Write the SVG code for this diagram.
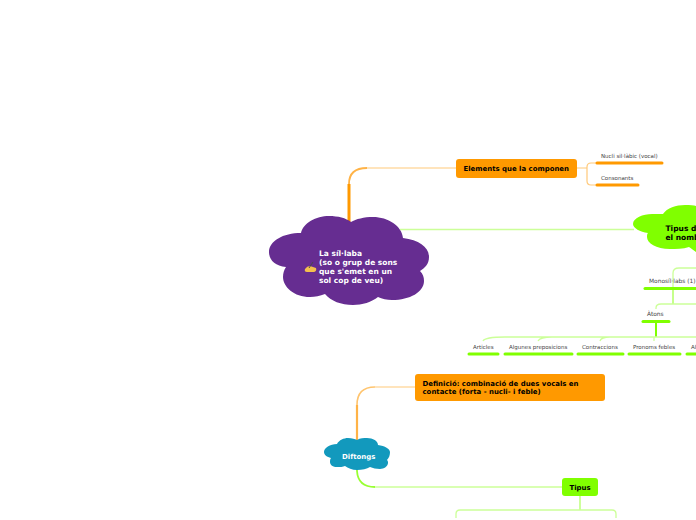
<svg xmlns="http://www.w3.org/2000/svg" width="696" height="520" viewBox="0 0 696 520">
<style>
text{font-family:"DejaVu Sans",Verdana,sans-serif}
.b{font-weight:bold;font-size:6.95px;fill:#000}
.w{font-weight:bold;font-size:7.5px;fill:#fff}
.s{font-size:5.5px;fill:#444}
.m{font-size:5.9px;fill:#444}
.lo{fill:none;stroke:#ffc97a;stroke-width:1.2}
.lg{fill:none;stroke:#ccff99;stroke-width:1.3}
.uo{stroke:#ff9900;stroke-width:3;stroke-linecap:round}
.ug{stroke:#80ff00;stroke-width:3;stroke-linecap:round}
</style>
<rect width="696" height="520" fill="#fff"/>
<g id="connectors">
<path class="lo" d="M367 168H456"/>
<path fill="none" stroke="#ffb347" stroke-width="1.800" d="M349 184Q349 168 367 168"/>
<path fill="none" stroke="#ff9900" stroke-width="3" d="M349 224V184"/>
<path class="lg" d="M400 229.500H634"/>
<path class="lo" d="M577 168H587M597 163H591Q587 163 587 167V181Q587 185 591 185H597"/>
<path class="lg" d="M673 288V273Q673 268 679 268H696"/>
<path d="M673 288V304" stroke="#b3ff66" stroke-width="1.500" fill="none"/>
<path class="lg" d="M696 304H661Q656 304 656 308V309"/>
<path d="M656 323V337" stroke="#80ff00" stroke-width="2" fill="none"/>
<path class="lg" d="M483 341Q485 337 505 337H696M538 341Q540 337 552 337M600 341Q601 337 610 337M654 341V337"/>
<path class="lo" d="M375 387H415"/>
<path fill="none" stroke="#ffc46e" stroke-width="1.600" d="M357 405Q357 387 375 387"/>
<path d="M357 440V405" fill="none" stroke="#ffb347" stroke-width="2.200"/>
<path class="lg" d="M375 487H562"/>
<path d="M357 469V471Q358 487 375 487" fill="none" stroke="#99ff33" stroke-width="1.800"/>
<path d="M580 496V510" stroke="#b3ff66" stroke-width="1.300" fill="none"/>
<path class="lg" d="M456 518V514Q456 510 460 510H612Q616 510 616 514V518"/>
</g>
<g id="n-sillaba">
<path fill="#662d91" d="M301 233C303 223 316 216 329 216C338 216 346 218 351 222C356 219 364 217 373 217C388 217 402 226 403 238C419 240 429 247 429 257C429 264 425 268 420 271C423 274 424 277 424 281C424 292 410 300 392 300C387 300 382 299 378 297C372 302 362 305 353 305C341 305 331 301 325 294C320 296 315 297 310 297C294 297 283 287 283 277C283 273 284 270 286 267C275 266 269 260 269 252C269 241 283 233 301 233Z"/>
<text class="w" x="319" y="256">La síl·laba</text>
<text class="w" x="319" y="265">(so o grup de sons</text>
<text class="w" x="319" y="274">que s'emet en un</text>
<text class="w" x="319" y="283">sol cop de veu)</text>
<path d="M305 269Q307 266 310 266L316 268Q317 271 314 272H307Q304 272 305 269Z" fill="#f4c04e"/>
<path d="M309 268L313 262" stroke="#4a4a4a" stroke-width="1"/>
</g>
<g id="n-elements">
<rect x="456" y="159" width="121" height="19" rx="3" fill="#ff9900"/>
<text class="b" x="463.500" y="171">Elements que la componen</text>
</g>
<g id="n-nucli"><text class="s" x="601" y="158">Nucli sil·làbic (vocal)</text><path class="uo" d="M597 163H662"/></g>
<g id="n-consonants"><text class="s" x="601" y="180">Consonants</text><path class="uo" d="M597 185H638"/></g>
<g id="n-tipus-nombre">
<path fill="#80ff00" d="M663 214C667 208 676 205 685 205C690 205 694 205 696 206V252C693 250 691 248 689 247C683 249 676 249 670 249C656 249 647 243 647 237C647 235 647 234 648 233C640 232 633 228 633 224C633 218 643 214 652 214C656 214 660 214 663 214Z"/>
<text class="b" style="font-size:7.5px" x="665.500" y="231">Tipus d</text>
<text class="b" style="font-size:7.5px" x="665.500" y="240">el nomb</text>
</g>
<g id="n-monosil"><text class="m" x="649" y="283">Monosíl·labs (1)</text><path class="ug" d="M645 288.500H696"/></g>
<g id="n-atons"><text class="m" x="647" y="316">Àtons</text><path class="ug" d="M643 321.500H669"/></g>
<g id="n-articles"><text class="s" x="473" y="349">Articles</text><path class="ug" d="M469 354H498"/></g>
<g id="n-prep"><text class="s" x="509" y="349">Algunes preposicions</text><path class="ug" d="M505 354H572"/></g>
<g id="n-contr"><text class="s" x="582" y="349">Contraccions</text><path class="ug" d="M578 354H623"/></g>
<g id="n-pron"><text class="s" x="633" y="349">Pronoms febles</text><path class="ug" d="M629 354H680"/></g>
<g id="n-al"><text class="s" x="691" y="349">Al</text><path class="ug" d="M687 354H696"/></g>
<g id="n-definicio">
<rect x="415" y="374" width="190" height="27" rx="3" fill="#ff9900"/>
<text class="b" x="422.500" y="386">Definició: combinació de dues vocals en</text>
<text class="b" x="422.500" y="394">contacte (forta - nucli- i feble)</text>
</g>
<g id="n-diftongs">
<path fill="#1299bd" d="M337 444C339 440 344 438 348 438C352 438 355 439 357 440C360 438 364 438 367 438C373 438 378 441 378 445C385 446 390 449 390 452C390 455 389 458 387 460C388 461 388 462 388 463C388 466 384 469 380 469C376 469 373 468 370 467C367 469 362 470 357 470C352 470 348 468 345 466C343 467 340 467 337 467C333 467 330 465 330 462C330 461 330 459 331 458C327 457 324 455 324 452C324 448 330 444 337 444Z"/>
<text class="w" style="font-size:6.95px" x="342" y="459">Diftongs</text>
</g>
<g id="n-tipus">
<rect x="562" y="478" width="36" height="18" rx="3" fill="#80ff00"/>
<text class="b" x="569.500" y="490">Tipus</text>
</g>
</svg>
